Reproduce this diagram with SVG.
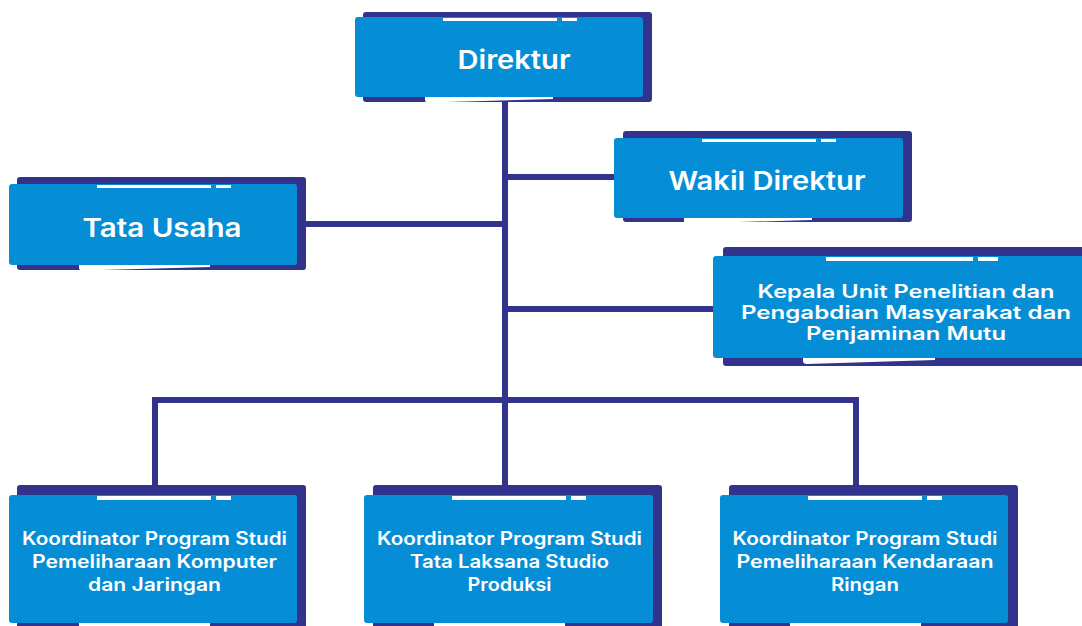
<svg xmlns="http://www.w3.org/2000/svg" width="1082" height="626" viewBox="0 0 1082 626">
<style>
.back{fill:#32338c}
.box{fill:#058ed6}
.wl{fill:#ffffff}
.sw{fill:#ffffff}
.t{fill:#ffffff;font-family:Inter,"Noto Sans","Liberation Sans",sans-serif;font-weight:600;text-anchor:middle}
.big{font-size:26px}
.mid{font-size:18px}
.sm{font-size:18px}
.ln{stroke:#32338c;stroke-width:6;fill:none}
</style>
<rect width="1082" height="626" fill="#ffffff"/>
<g id="connectors">
<path class="ln" d="M505,100 V487"/>
<path class="ln" d="M505,177 H616"/>
<path class="ln" d="M304,224 H505"/>
<path class="ln" d="M505,309 H715"/>
<path class="ln" d="M155,487 V400 H856 V487"/>
</g>
<g id="direktur">
<rect class="back" x="363" y="12" width="289" height="90" rx="3"/>
<rect class="box" x="355" y="17" width="288" height="80" rx="3"/>
<rect class="wl" x="443" y="18" width="114" height="3"/>
<rect class="wl" x="562" y="18" width="15" height="3"/>
<path class="sw" d="M425,97 L425,100 Q425,102.5 429,102.5 L553,99 L553,97 Z"/>
<text class="t big" x="514" y="69" textLength="113" lengthAdjust="spacingAndGlyphs">Direktur</text>
</g>
<g id="wakil">
<rect class="back" x="623" y="131" width="289" height="91" rx="3"/>
<rect class="box" x="614" y="138" width="289" height="80" rx="3"/>
<rect class="wl" x="702" y="139" width="114" height="3"/>
<rect class="wl" x="821" y="139" width="15" height="3"/>
<path class="sw" d="M684,218 L684,221 Q684,223.5 688,223.5 L812,220 L812,218 Z"/>
<text class="t big" x="767" y="190" textLength="197" lengthAdjust="spacingAndGlyphs">Wakil Direktur</text>
</g>
<g id="tata-usaha">
<rect class="back" x="17" y="177" width="289" height="93" rx="3"/>
<rect class="box" x="9" y="184" width="288" height="81" rx="3"/>
<rect class="wl" x="97" y="185" width="114" height="3"/>
<rect class="wl" x="216" y="185" width="15" height="3"/>
<path class="sw" d="M79,265 L79,268 Q79,270.5 83,270.5 L210,267 L210,265 Z"/>
<text class="t big" x="162" y="237" textLength="159" lengthAdjust="spacingAndGlyphs">Tata Usaha</text>
</g>
<g id="kepala-unit">
<rect class="back" x="723" y="247" width="370" height="119" rx="3"/>
<rect class="box" x="713" y="256" width="380" height="102" rx="3"/>
<rect class="wl" x="826" y="257" width="147" height="4"/>
<rect class="wl" x="978" y="257" width="20" height="4"/>
<path class="sw" d="M803,358 L803,361 Q803,364 807,364 L935,360 L935,358 Z"/>
<text class="t mid" x="906" y="298" textLength="297" lengthAdjust="spacingAndGlyphs">Kepala Unit Penelitian dan</text>
<text class="t mid" x="906" y="319" textLength="330" lengthAdjust="spacingAndGlyphs">Pengabdian Masyarakat dan</text>
<text class="t mid" x="906" y="340" textLength="200" lengthAdjust="spacingAndGlyphs">Penjaminan Mutu</text>
</g>
<g id="koordinator-pkj">
<rect class="back" x="17" y="485" width="289" height="150" rx="3"/>
<rect class="box" x="9" y="495" width="288" height="128" rx="3"/>
<rect class="wl" x="97" y="496" width="114" height="4"/>
<rect class="wl" x="216" y="496" width="15" height="4"/>
<path class="sw" d="M79,623 L79,626 L210,626 L210,623 Z"/>
<text class="t sm" x="154.5" y="545" textLength="265" lengthAdjust="spacingAndGlyphs">Koordinator Program Studi</text>
<text class="t sm" x="154.5" y="568" textLength="245" lengthAdjust="spacingAndGlyphs">Pemeliharaan Komputer</text>
<text class="t sm" x="154.5" y="591" textLength="133" lengthAdjust="spacingAndGlyphs">dan Jaringan</text>
</g>
<g id="koordinator-tlsp">
<rect class="back" x="373" y="485" width="289" height="150" rx="3"/>
<rect class="box" x="364" y="495" width="289" height="128" rx="3"/>
<rect class="wl" x="452" y="496" width="114" height="4"/>
<rect class="wl" x="571" y="496" width="15" height="4"/>
<path class="sw" d="M434,623 L434,626 L565,626 L565,623 Z"/>
<text class="t sm" x="509.5" y="545" textLength="265" lengthAdjust="spacingAndGlyphs">Koordinator Program Studi</text>
<text class="t sm" x="509.5" y="568" textLength="199" lengthAdjust="spacingAndGlyphs">Tata Laksana Studio</text>
<text class="t sm" x="509.5" y="591" textLength="84" lengthAdjust="spacingAndGlyphs">Produksi</text>
</g>
<g id="koordinator-pkr">
<rect class="back" x="729" y="485" width="289" height="150" rx="3"/>
<rect class="box" x="720" y="495" width="288" height="128" rx="3"/>
<rect class="wl" x="808" y="496" width="114" height="4"/>
<rect class="wl" x="927" y="496" width="15" height="4"/>
<path class="sw" d="M790,623 L790,626 L921,626 L921,623 Z"/>
<text class="t sm" x="865" y="545" textLength="265" lengthAdjust="spacingAndGlyphs">Koordinator Program Studi</text>
<text class="t sm" x="865" y="568" textLength="257" lengthAdjust="spacingAndGlyphs">Pemeliharaan Kendaraan</text>
<text class="t sm" x="865" y="591" textLength="68" lengthAdjust="spacingAndGlyphs">Ringan</text>
</g>
</svg>
